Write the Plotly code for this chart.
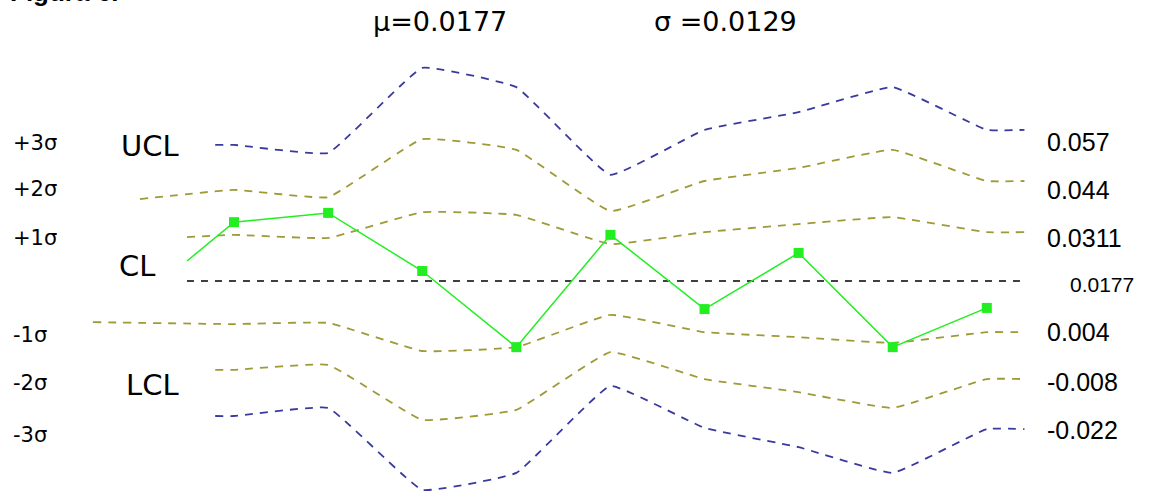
import plotly.graph_objects as go

# ---- data ----
pts_x = [0.5, 1, 2, 3, 4, 5, 6, 7, 8, 9]
pts_y = [0.0229, 0.0330, 0.0354, 0.0203, 0.0005, 0.0297, 0.0104, 0.0250, 0.0005, 0.0107]
pts_marker = [False, True, True, True, True, True, True, True, True, True]

ucl_x = [0.8, 1, 2, 3, 4, 5, 6, 7, 8, 9, 9.4]
ucl_y = [0.0531, 0.0531, 0.0510, 0.0731, 0.0681, 0.0453, 0.0570, 0.0616, 0.0681, 0.0570, 0.0570]

p2_x = [0, 1, 2, 3, 4, 5, 6, 7, 8, 9, 9.4]
p2_y = [0.0390, 0.0414, 0.0395, 0.0546, 0.0518, 0.0359, 0.0437, 0.0471, 0.0518, 0.0437, 0.0437]

p1_x = [0.5, 1, 2, 3, 4, 5, 6, 7, 8, 9, 9.4]
p1_y = [0.0291, 0.0297, 0.0289, 0.0356, 0.0349, 0.0273, 0.0304, 0.0325, 0.0343, 0.0304, 0.0304]

cl_x = [0.5, 9.4]
cl_y = [0.0177, 0.0177]

m1_x = [-0.5, 1, 2, 3, 4, 5, 6, 7, 8, 9, 9.4]
m1_y = [0.0070, 0.0065, 0.0068, -0.0005, 0.0005, 0.0089, 0.0044, 0.0031, 0.0016, 0.0044, 0.0044]

m2_x = [0.8, 1, 2, 3, 4, 5, 6, 7, 8, 9, 9.4]
m2_y = [-0.0054, -0.0054, -0.0041, -0.0184, -0.0158, -0.0008, -0.0078, -0.0112, -0.0153, -0.0078, -0.0078]

lcl_x = [0.8, 1, 2, 3, 4, 5, 6, 7, 8, 9, 9.4]
lcl_y = [-0.0174, -0.0174, -0.0153, -0.0366, -0.0322, -0.0096, -0.0205, -0.0255, -0.0322, -0.0208, -0.0208]

mu_text = "μ=0.0177"
sigma_text = "σ =0.0129"
left_labels = ["+3σ", "+2σ", "+1σ", "-1σ", "-2σ", "-3σ"]
right_labels = ["0.057", "0.044", "0.0311", "0.0177", "0.004", "-0.008", "-0.022"]
limit_names = ["UCL", "CL", "LCL"]

W, H = 1156, 494
BLUE = "#3a3a9e"
OLIVE = "#9e9a38"
GREEN = "#22ee22"

fig = go.Figure()

def dashed(x, y, color):
    fig.add_trace(go.Scatter(x=x, y=y, mode="lines",
                             line=dict(color=color, width=1.8, dash="8px,7px",
                                       shape="spline", smoothing=0.3),
                             hoverinfo="skip", showlegend=False))

dashed(ucl_x, ucl_y, BLUE)
dashed(p2_x, p2_y, OLIVE)
dashed(p1_x, p1_y, OLIVE)
dashed(m1_x, m1_y, OLIVE)
dashed(m2_x, m2_y, OLIVE)
dashed(lcl_x, lcl_y, BLUE)

fig.add_trace(go.Scatter(x=cl_x, y=cl_y, mode="lines",
                         line=dict(color="black", width=1.5, dash="7px,7px"),
                         hoverinfo="skip", showlegend=False))

fig.add_trace(go.Scatter(x=pts_x, y=pts_y, mode="lines",
                         line=dict(color=GREEN, width=1.5),
                         hoverinfo="skip", showlegend=False))
fig.add_trace(go.Scatter(x=[x for x, m in zip(pts_x, pts_marker) if m],
                         y=[y for y, m in zip(pts_y, pts_marker) if m],
                         mode="markers",
                         marker=dict(symbol="square", size=10, color=GREEN,
                                     line=dict(width=0)),
                         hoverinfo="skip", showlegend=False))

def px_ann(text, x, y, size, family, anchor="left", bold=False):
    fig.add_annotation(text=("<b>%s</b>" % text) if bold else text,
                       xref="paper", yref="paper", x=x / W, y=1 - y / H,
                       xanchor=anchor, yanchor="middle", showarrow=False,
                       font=dict(size=size, family=family, color="black"))

TAH = "DejaVu Sans"
ARI = "Liberation Sans"

px_ann("Figura 6.", 8, -8, 26, ARI, bold=True)
px_ann(mu_text, 371, 22, 27, TAH)
px_ann(sigma_text, 652, 22, 27, TAH)

left_y = [143, 189, 238, 335, 383, 435]
for t, yy in zip(left_labels, left_y):
    px_ann(t, 11, yy, 21, TAH)

lim_pos = [(119, 146), (117, 266), (124, 385)]
for t, (xx, yy) in zip(limit_names, lim_pos):
    px_ann(t, xx, yy, 29, TAH)

right_pos = [(1045, 142), (1045, 190), (1045, 238), (1068, 284), (1045, 332), (1045, 382), (1045, 430)]
right_size = [25, 25, 25, 21, 25, 25, 25]
for t, (xx, yy), s in zip(right_labels, right_pos, right_size):
    px_ann(t, xx, yy, s, ARI)

fig.update_layout(
    width=W, height=H,
    margin=dict(l=0, r=0, t=0, b=0),
    paper_bgcolor="white", plot_bgcolor="white",
    xaxis=dict(range=[-1.487, 10.798], visible=False, fixedrange=True),
    yaxis=dict(range=[-0.03768, 0.09076], visible=False, fixedrange=True),
    showlegend=False,
)

fig.write_html("out.html", config={"displayModeBar": False},
               post_script="document.body.style.margin='0px';")
